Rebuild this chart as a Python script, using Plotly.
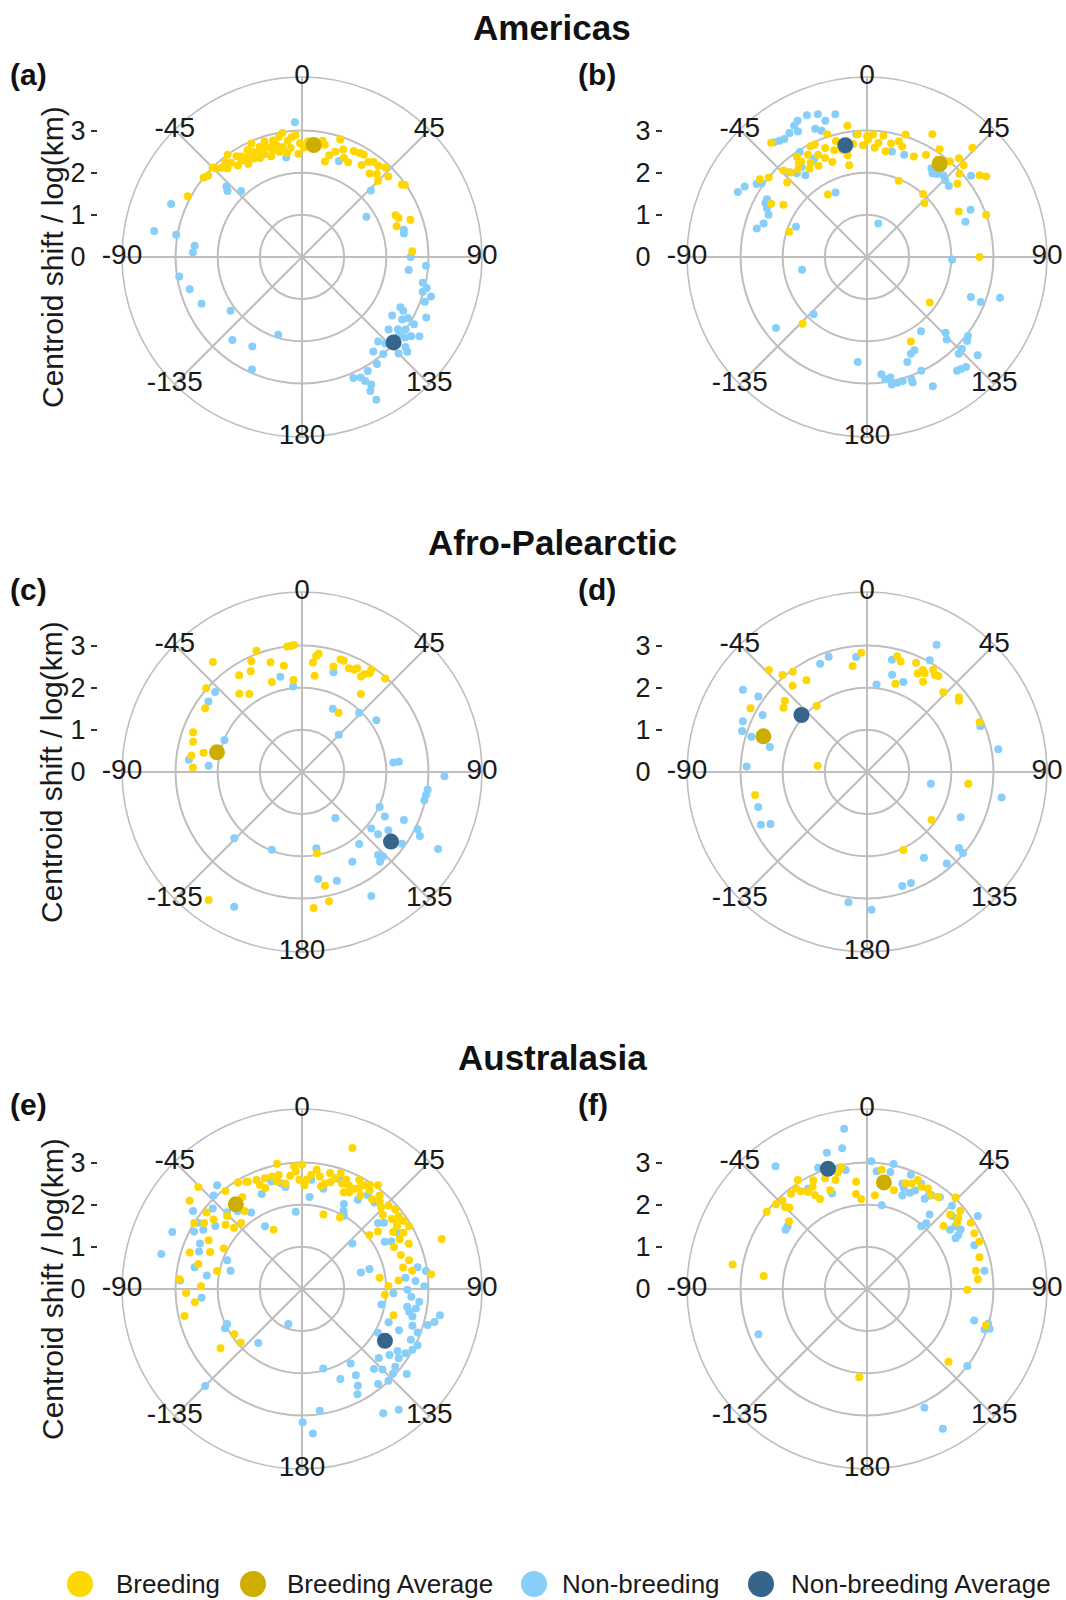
import plotly.graph_objects as go

# ---------------------------------------------------------------
# Direction (degrees, 0 = north, clockwise) and size (log km) of
# range-centroid shifts, per region and season.
# ---------------------------------------------------------------

# (a) Americas - breeding season
A_BREEDING_THETA = [-62, -51, -49, -45, -44, -42, -40, -39, -37, -36, -35, -33, -32, -31, -30, -29, -27, -26,
                    -25, -24, -23, -22, -21, -20, -19, -18, -17, -16, -15, -14, -13, -12, -11, -10, -9, -8,
                    -7, -6, -5, -3, -2, -1, 1, 3, 8, 10, 11.5, 13.5, 15, 17.5, 18, 21, 23, 26, 26, 29, 31,
                    33, 35, 37, 39, 40, 42, 43, 45, 47, 54, 55, 66, 68, 71, 72, 87]
A_BREEDING_R = [3.07, 3.0, 2.95, 3.0, 2.92, 2.85, 2.75, 2.9, 2.8, 3.0, 2.65, 2.85, 2.7, 2.78, 2.55, 2.7, 2.85, 2.6,
                2.75, 2.95, 2.55, 2.7, 2.8, 2.6, 2.75, 2.88, 2.5, 2.7, 2.62, 2.85, 2.72, 2.55, 2.9, 2.65, 2.98, 2.5,
                2.78, 2.6, 2.85, 2.9, 2.45, 2.7, 2.6, 2.75, 2.65, 2.8, 2.72, 2.33, 2.5, 2.62, 2.93, 2.73, 2.55, 2.5,
                2.8, 2.82, 2.84, 2.6, 2.75, 2.82, 2.55, 2.82, 2.65, 2.9, 2.55, 2.8, 2.93, 2.98, 2.43, 2.47, 2.72,
                2.36, 2.62]
# (a) Americas - non-breeding season
A_NONBREEDING_THETA = [-3, -9, 21, -48.5, -47, -42.7, -68, -80, -80, -84, -87.6, 46, 58, 75, 77, 90, 97, 94, 102,
                       104, 106, 107, 110, 116, 117, 118, 120, 121, 122, 123, 124, 125, 126, 127, 128, 129, 130,
                       131, 132, 133, 135, 136, 138, 140, 143, 145, 150, 151.5, 153, 153, 154, 157, 152.5, -99,
                       -106, -115, -127, -163, -140, -151, -156]
A_NONBREEDING_R = [3.2, 2.39, 2.44, 2.36, 2.45, 2.13, 3.35, 3.56, 3.03, 2.56, 2.59, 2.27, 1.8, 2.5, 2.48, 2.58, 2.55,
                   2.95, 2.93, 3.05, 2.98, 3.2, 3.1, 3.28, 2.62, 2.72, 2.9, 3.1, 2.8, 2.55, 3.36, 3.0, 3.2, 2.85,
                   3.1, 2.95, 2.68, 3.25, 3.36, 3.05, 3.24, 2.85, 2.7, 3.0, 2.81, 3.1, 3.12, 3.44, 3.3, 3.57, 3.18,
                   3.12, 3.82, 2.95, 2.77, 2.63, 2.12, 1.93, 2.57, 2.43, 2.92]

# (b) Americas - breeding season
B_BREEDING_THETA = [-54, -51, -47, -72, -58, -61, -40, -44, -42, -38, -36, -35, -34.6, -33, -31, -30, -28, -27,
                    -25.5, -24.9, -23, -21, -20, -18, -17, -15, -32, -13, -11, -10.8, -8.5, -7, -4.3, -2, 0, 0.5,
                    2.9, 4, 5.7, 7.7, 10, 12, 15.4, 17.7, 17.5, 22.6, 25, 28, 30, 34, 36, 41.7, 46.8, 41, 43,
                    46.5, 44, 48, 54, 56, 51, 63.6, 70.5, 90, 126, 152.6, -136]
B_BREEDING_R = [3.14, 3.0, 2.59, 1.94, 2.34, 2.6, 3.54, 2.85, 2.7, 2.65, 2.75, 2.9, 2.75, 2.5, 2.6, 2.8, 2.45, 2.95,
                2.69, 2.94, 2.55, 2.77, 2.4, 3.06, 2.65, 2.85, 1.75, 2.6, 2.22, 2.46, 3.15, 2.7, 2.92, 2.65, 2.87,
                2.79, 2.91, 2.6, 2.72, 2.9, 2.55, 2.75, 2.85, 2.75, 3.05, 1.96, 2.63, 3.3, 2.8, 3.08, 2.85, 2.0,
                1.87, 3.0, 3.2, 3.16, 3.6, 2.95, 3.3, 3.41, 2.76, 2.43, 3.0, 2.67, 1.84, 2.26, 2.2]
# (b) Americas - non-breeding season
B_NONBREEDING_THETA = [-23, -19, -17, -12.5, -27, -29, -32, -35, -37, -39, -28.8, -22, -19.8, -5, 13.3, 20, 36, 38,
                       40, 43, 45.6, 49, 52, -36, -42.5, -40, -37, -30, -28, -32.6, -63.3, -60, -56.5, -55, -60,
                       -62, -64, -66.8, -72, -75.5, -67, -26, 18.6, -101, -128, -137, 91.6, 65.5, 70.3, 111, 111.6,
                       107, 144, 134, 136, 128, 130, 134, 136.5, 131.6, 141.6, 140, 138, 153, 155.6, 159, 154.5,
                       153, -175, 173, 171.5, 169, 169, 166.5, 164, 160, 160]
B_NONBREEDING_R = [3.65, 3.58, 3.38, 3.47, 3.63, 3.56, 3.47, 3.42, 3.45, 3.5, 3.4, 3.28, 3.18, 2.93, 2.57, 2.58, 2.6,
                   2.52, 2.57, 2.65, 2.6, 2.57, 3.13, 2.64, 2.73, 2.59, 2.43, 2.6, 2.65, 2.96, 3.43, 3.35, 3.14,
                   3.05, 2.74, 2.73, 2.64, 2.54, 2.58, 2.7, 1.83, 1.7, 0.84, 1.57, 2.74, 1.86, 2.02, 2.7, 2.48,
                   2.64, 2.9, 3.3, 2.18, 2.59, 2.72, 3.04, 3.1, 3.13, 3.16, 3.51, 3.44, 3.47, 3.51, 2.48, 2.52,
                   2.67, 2.99, 3.44, 2.5, 2.8, 2.93, 2.91, 3.08, 3.07, 3.06, 3.08, 3.17]

# (c) Afro-Palearctic - breeding season
C_BREEDING_THETA = [-39, -20.6, -24.6, -27, -16, -9.7, -6.7, -5, -3.6, -5.3, -18.5, -33, -38.7, -34, -48.8, -56.7,
                    -70, -74.5, -81.5, -87.7, -79, 5.7, 7, 8, 7.5, 16.6, 31.7, 18.9, 20.6, 24.3, 27, 28, 31.7,
                    32.6, 34.4, 34.1, 41.6, 37, 169.5, 168.6, 168.2, 175.1, -143.9]
C_BREEDING_R = [3.36, 3.07, 2.89, 2.68, 2.71, 2.56, 3.0, 3.0, 3.02, 2.19, 2.25, 2.74, 2.38, 2.23, 3.02, 2.75,
                2.75, 2.68, 2.65, 2.59, 2.38, 2.61, 2.77, 2.83, 2.3, 2.61, 1.65, 2.82, 2.82, 2.7, 2.72, 2.79, 2.66,
                2.75, 2.84, 2.93, 2.97, 2.32, 1.96, 2.75, 3.13, 3.24, 3.76]
# (c) Afro-Palearctic - non-breeding season
C_NONBREEDING_THETA = [-12.8, -5.9, 17.5, 25.9, 44.7, 44, 55.2, -47.4, -53, -67.6, -83.8, -86.2, 84, 84, 91.7, 98,
                       100.5, 103, 114.2, 144, 118.2, 115.2, 129.2, 129.3, 124, 116.4, 118.5, 125.7, 141.5, 150.7,
                       137.5, 139, 136.2, 119.5, 150.8, 162.2, 171.4, 169.3, -134.4, -158.8, -153.3]
C_NONBREEDING_R = [2.32, 2.04, 2.48, 1.67, 1.24, 1.95, 2.15, 2.8, 2.78, 1.99, 2.7, 2.22, 2.18, 2.31, 3.38, 3.01,
                   2.99, 2.98, 2.02, 1.35, 2.23, 2.67, 2.12, 2.33, 2.47, 3.06, 3.18, 2.92, 2.18, 2.44, 2.67, 2.82,
                   2.78, 3.71, 3.37, 2.71, 2.57, 1.84, 2.25, 1.98, 3.58]

# (d) Afro-Palearctic - breeding season
D_BREEDING_THETA = [-2.8, -7.7, -43.9, -41.1, -36.5, -40.8, -33.4, -49, -52.4, -37.3, -61.3, -82.9, -101.6, 14.6,
                    16.9, 17.8, 24.2, 27.2, 28.7, 30.3, 31.8, 32.9, 35, 36.6, 43.7, 50.9, 52.2, 66.2, 96.6, 126.7,
                    155]
D_BREEDING_R = [2.83, 2.54, 3.36, 3.05, 2.96, 2.7, 2.61, 2.58, 2.5, 1.97, 3.15, 1.18, 2.71, 2.84, 2.74, 2.2, 2.84,
                2.63, 2.76, 2.71, 2.52, 2.89, 2.81, 2.84, 2.62, 2.81, 2.76, 2.92, 2.42, 1.91, 2.04]
# (d) Afro-Palearctic - non-breeding season
D_NONBREEDING_THETA = [28.7, 29.3, 12.5, 14.5, 22, 6.2, -5.4, -18.4, -23.4, -56.5, -55.2, -67.8, -71.8, -61.4, -73,
                       -75.6, -87.4, -107.8, -116.4, -118.3, 80.2, 100.7, 68, 100.4, 115.8, 129.6, 130.2, 138.9,
                       146.4, 162.8, 158.4, -171.9, 178.1]
D_NONBREEDING_R = [3.44, 3.04, 2.73, 2.38, 2.3, 2.09, 2.74, 2.88, 2.8, 3.53, 3.14, 3.18, 3.12, 2.82, 2.87, 2.38,
                   2.86, 2.71, 2.81, 2.6, 3.16, 3.25, 2.9, 1.54, 2.47, 2.83, 2.98, 2.88, 2.44, 2.83, 2.83, 3.12,
                   3.27]

# (e) Australasia - breeding season
E_BREEDING_THETA = [-27.5, -22.7, -18.5, -15, -11.5, -11.3, -8.9, -3.7, -3, -1.4, 1.3, 4.6, 9, 12.3, 13.6, 16.7,
                    20.8, 23.3, 24.3, 27.4, 27.7, 31, 32, 34.4, 36.2, 39.7, 46, 49.4, 53, 56, 59.6, 52, 56.5, 52.9,
                    51.3, 75, 80.6, 81.7, 94, 106, 83.5, 70.3, 19.7, 16, 28, -45.5, -51.8, -51.3, -51.8, -62.4, -68,
                    -76.5, -78, -85.5, -97, -103, -126, -123.7, -131, -50, -45.7, -36.4, -26.8, -25.6, -22, -62.6,
                    -42.7, -48, -33, -31, -20, -13, -6, 0, 2.5, 7, 10.5, 15, 18.5, 22, 26, 29.5, 33, 38, 41.5, 44,
                    47.5, 55, 58, 61, 63, 65.5, 67, 71, 78, 85, 88, -38, -56, -58.5, -72, -88.5, -92]
E_BREEDING_R = [2.87, 2.8, 2.77, 2.76, 2.76, 3.03, 2.53, 2.92, 2.79, 2.59, 2.46, 2.72, 2.7, 2.56, 2.83, 2.74, 2.68,
                2.5, 2.7, 2.68, 2.92, 2.87, 2.62, 2.84, 3.05, 2.88, 2.85, 2.91, 2.87, 2.9, 2.94, 2.7, 2.7, 2.26,
                2.05, 2.63, 2.65, 1.86, 1.97, 2.26, 3.08, 3.52, 3.55, 1.84, 1.92, 3.45, 3.39, 2.9, 2.67, 2.5, 2.35,
                2.53, 2.06, 2.92, 2.56, 2.86, 2.39, 1.93, 1.93, 2.37, 2.48, 2.3, 2.85, 1.56, 2.66, 2.09, 2.13, 2.17,
                2.6, 2.95, 2.55, 2.62, 2.7, 2.95, 2.6, 2.85, 2.48, 2.62, 2.9, 2.8, 2.55, 2.75, 2.95, 2.7, 2.78, 2.7,
                2.6, 2.75, 2.55, 2.75, 2.6, 2.4, 2.75, 2.48, 2.45, 2.3, 2.05, 2.95, 2.8, 3.0, 2.8, 2.4, 2.75]
# (e) Australasia - non-breeding season
E_NONBREEDING_THETA = [-76, -66.3, -39.3, -43.4, -54.4, -57.5, -59, -54, -44.3, -39.5, -33.6, -30.5, -95, -82,
                       -78.6, -66, -69, -75.7, -135, -141, -115, -117, -158.6, 179.7, 175.7, 171.7, 165, 156.9,
                       146.8, 148, 152.2, 150, 141.3, 146.8, 141.3, 136.7, 133, 129.8, 125.6, 121.8, 118.8, 116,
                       110.6, 108.4, 104, 99.7, 96.2, 99.6, 102, 104, 100.8, 90.4, 88.7, 79.4, 81.7, 83.8, 92.6, 101,
                       111, 120, 127, 135, 138, 74.4, 73.6, 47.9, 60.3, 62, 60, 49, 51, 40, 35, 32, 19.4, 4.9, 4.7,
                       -4.6, -9.2, -11, 26.2, 28, 12, 29.8, -23, -16, -48, -62, -70, -86, 113, 115, 123, 129, 132,
                       106, 94, 86]
E_NONBREEDING_R = [3.44, 3.36, 3.18, 3.05, 3.18, 2.92, 2.73, 2.54, 2.54, 2.4, 2.18, 1.73, 2.39, 2.28, 2.6, 2.65,
                   1.9, 1.75, 3.25, 1.65, 1.96, 2.05, 0.89, 3.16, 3.44, 2.92, 1.95, 2.32, 2.11, 2.41, 2.82, 2.65,
                   2.89, 3.52, 3.67, 2.99, 2.95, 2.88, 2.82, 2.89, 2.99, 3.05, 2.93, 2.76, 2.7, 2.74, 2.8, 2.53,
                   2.6, 3.24, 3.33, 2.5, 2.9, 2.79, 2.97, 2.47, 2.17, 1.92, 2.2, 2.08, 2.6, 2.7, 2.55, 1.45, 1.67,
                   1.61, 2.26, 2.4, 2.65, 2.39, 2.5, 2.68, 2.72, 2.5, 2.74, 2.6, 2.19, 1.84, 2.45, 2.55, 2.25, 2.1,
                   2.43, 2.0, 2.45, 2.65, 2.85, 2.9, 2.6, 2.9, 2.5, 2.85, 2.7, 3.2, 2.45, 3.1, 2.6, 2.7]

# (f) Australasia - breeding season
F_BREEDING_THETA = [-79.7, -82.8, -52.4, -47, -43.7, -45, -43.6, -38.6, -35.2, -32.4, -34, -31.3, -26.3, -28, -27.5,
                    -29, -20.7, -20.4, -16.1, -14, -12, -5.8, -6.6, -3.7, 4.8, 7, 15.2, 20.1, 23, 25, 28, 31.3, 34,
                    37.8, 44, 50, 48.1, 50.6, 52, 53.7, 57.5, 62.5, 67.2, 74.2, 80.5, 85, 90.4, 107, -175, 131.7,
                    -49]
F_BREEDING_R = [3.24, 2.47, 3.0, 2.95, 2.9, 2.75, 2.67, 2.89, 2.92, 3.06, 2.8, 2.69, 2.88, 2.75, 2.41, 2.55, 2.81,
                2.5, 2.69, 2.85, 2.95, 2.56, 2.27, 2.14, 2.23, 2.85, 2.43, 2.67, 2.72, 2.85, 2.75, 2.79, 2.7, 2.76,
                3.02, 2.89, 2.65, 2.35, 2.75, 2.65, 2.92, 2.87, 2.89, 2.77, 2.62, 2.64, 2.38, 2.95, 2.1, 2.59, 2.45]
# (f) Australasia - non-breeding season
F_NONBREEDING_THETA = [-8.1, -10, -16.4, -36.7, -30.4, -20.1, -10.1, 2, 12, 4.7, 11.3, 10, 18.5, 20, 21, 20.7, 24,
                       26, 27.2, 32.6, 33.5, 34.6, 38.5, 40, 40.8, 42, 45.6, 49.3, 54.6, 54.5, 57.6, 59.5, 60.2,
                       56.6, 67.8, 81.2, 106.4, 106, 108, 109, 127.5, 154.2, 151.5, -112.6, -51.7, -53.9, -22, -13]
F_NONBREEDING_R = [3.84, 3.39, 3.37, 3.63, 2.76, 2.41, 2.87, 3.03, 3.03, 2.8, 2.83, 2.02, 2.64, 2.55, 2.9, 2.37,
                   2.5, 2.6, 2.81, 2.54, 2.65, 2.7, 2.78, 2.31, 1.97, 2.1, 2.82, 2.66, 2.57, 2.42, 2.63, 2.52, 2.42,
                   3.15, 2.75, 2.82, 2.65, 2.99, 3.06, 2.95, 3.0, 3.13, 3.77, 2.79, 2.4, 2.39, 3.1, 2.95]

# Mean shift per panel (a-f)
BREEDING_AVG_THETA = [6, 38, -77, -71, -38, 9]
BREEDING_AVG_R = [2.67, 2.8, 2.07, 2.6, 2.55, 2.56]
NONBREEDING_AVG_THETA = [133, -11, 128, -49, 122, -18]
NONBREEDING_AVG_R = [2.97, 2.7, 2.68, 2.06, 2.32, 3.0]

PANEL_LABELS = ["(a)", "(b)", "(c)", "(d)", "(e)", "(f)"]
REGION_TITLES = ["Americas", "Afro-Palearctic", "Australasia"]
ANGLE_TICKS = [0, 45, 90, 135, 180, -135, -90, -45]
RADIAL_TICKS = [0, 1, 2, 3]
Y_TITLE = "Centroid shift / log(km)"
SERIES_NAMES = ["Breeding", "Breeding Average", "Non-breeding", "Non-breeding Average"]

# ---------------------------------------------------------------
# Styling and page geometry (pixels)
# ---------------------------------------------------------------
W, H = 1066, 1600
FONT = "Liberation Sans, Arial, sans-serif"
TXT = "#1a1a1a"
COL_X = [302, 867]
ROW_Y = [257, 772, 1289]
TITLE_Y = [28, 542, 1057]
LABEL_Y = [74, 589, 1104]
LABEL_X = [8, 576]
R_PX = 180          # outer circle radius in px
R_MAX = 4.27        # radial value at the outer circle
AXIS_GAP = 204      # distance from circle centre to the radial value axis
GRID = "#BEBEBE"
C_BREED, C_BREED_AVG = "#FFD700", "#CDAD00"
C_NON, C_NON_AVG = "#87CEFA", "#36648B"
SERIES_COLORS = [C_BREED, C_BREED_AVG, C_NON, C_NON_AVG]
PT_SIZE, AVG_SIZE = 8, 16
# key row along the bottom edge
KEY_Y = 1584
KEY_SWATCH_X = [80, 253, 534, 761]
KEY_TEXT_X = [114, 285, 560, 789]
KEY_SWATCH_SIZE = 26

breeding = [(A_BREEDING_THETA, A_BREEDING_R), (B_BREEDING_THETA, B_BREEDING_R),
            (C_BREEDING_THETA, C_BREEDING_R), (D_BREEDING_THETA, D_BREEDING_R),
            (E_BREEDING_THETA, E_BREEDING_R), (F_BREEDING_THETA, F_BREEDING_R)]
nonbreeding = [(A_NONBREEDING_THETA, A_NONBREEDING_R), (B_NONBREEDING_THETA, B_NONBREEDING_R),
               (C_NONBREEDING_THETA, C_NONBREEDING_R), (D_NONBREEDING_THETA, D_NONBREEDING_R),
               (E_NONBREEDING_THETA, E_NONBREEDING_R), (F_NONBREEDING_THETA, F_NONBREEDING_R)]

fig = go.Figure()
layout = {}
annotations = []
tickfont = dict(family=FONT, size=27, color=TXT)

for i in range(6):
    row, col = divmod(i, 2)
    cx, cy = COL_X[col], ROW_Y[row]
    sub = "polar" if i == 0 else f"polar{i + 1}"
    ydom = [1 - (cy + R_PX) / H, 1 - (cy - R_PX) / H]
    layout[sub] = dict(
        domain=dict(x=[(cx - R_PX) / W, (cx + R_PX) / W], y=ydom),
        bgcolor="white",
        radialaxis=dict(range=[0, R_MAX], tickvals=[1, 2, 3], showticklabels=False, ticks="",
                        showline=False, gridcolor=GRID, gridwidth=1.6),
        angularaxis=dict(rotation=90, direction="clockwise", tickmode="array",
                         tickvals=[0, 45, 90, 135, 180, 225, 270, 315], showticklabels=False, ticks="",
                         gridcolor=GRID, gridwidth=1.6, showline=True, linecolor=GRID, linewidth=1.6,
                         layer="below traces"),
    )

    th, rr = nonbreeding[i]
    fig.add_trace(go.Scatterpolar(theta=th, r=rr, mode="markers", subplot=sub, name="Non-breeding",
                                  marker=dict(size=PT_SIZE, color=C_NON, line=dict(width=0))))
    th, rr = breeding[i]
    fig.add_trace(go.Scatterpolar(theta=th, r=rr, mode="markers", subplot=sub, name="Breeding",
                                  marker=dict(size=PT_SIZE, color=C_BREED, line=dict(width=0))))
    fig.add_trace(go.Scatterpolar(theta=[BREEDING_AVG_THETA[i]], r=[BREEDING_AVG_R[i]], mode="markers",
                                  subplot=sub, name="Breeding Average",
                                  marker=dict(size=AVG_SIZE, color=C_BREED_AVG, line=dict(width=0))))
    fig.add_trace(go.Scatterpolar(theta=[NONBREEDING_AVG_THETA[i]], r=[NONBREEDING_AVG_R[i]], mode="markers",
                                  subplot=sub, name="Non-breeding Average",
                                  marker=dict(size=AVG_SIZE, color=C_NON_AVG, line=dict(width=0))))
    # direction labels centred on the outer ring
    fig.add_trace(go.Scatterpolar(theta=ANGLE_TICKS, r=[R_MAX] * len(ANGLE_TICKS), mode="text",
                                  text=[str(a) for a in ANGLE_TICKS], subplot=sub,
                                  cliponaxis=False, hoverinfo="skip",
                                  textfont=dict(family=FONT, size=28, color=TXT)))

    # radial value axis left of each circle: ticked values 1-3, un-ticked 0
    n1, n2 = 2 * i + 1, 2 * i + 2
    pos = (cx - AXIS_GAP) / W
    for n, vals, tcol in [(n1, RADIAL_TICKS[1:], "#333333"), (n2, RADIAL_TICKS[:1], "rgba(0,0,0,0)")]:
        layout[f"xaxis{n}"] = dict(domain=[pos, pos + 0.002], visible=False, anchor=f"y{n}", range=[0, 1])
        layout[f"yaxis{n}"] = dict(domain=ydom, range=[-R_MAX, R_MAX], anchor=f"x{n}", tickmode="array",
                                   tickvals=vals, ticktext=[str(v) for v in vals],
                                   ticks="outside", ticklen=6, tickwidth=1.6, tickcolor=tcol,
                                   showline=False, showgrid=False, zeroline=False, tickfont=tickfont)
        fig.add_trace(go.Scatter(x=[None], y=[None], xaxis=f"x{n}", yaxis=f"y{n}", hoverinfo="skip"))

    annotations.append(dict(text=f"<b>{PANEL_LABELS[i]}</b>", xref="paper", yref="paper",
                            x=LABEL_X[col] / W, y=1 - LABEL_Y[row] / H,
                            xanchor="left", yanchor="middle", showarrow=False,
                            font=dict(family=FONT, size=30, color="#111111")))
    if col == 0:
        annotations.append(dict(text=Y_TITLE, xref="paper", yref="paper", x=52 / W, y=1 - cy / H,
                                xanchor="center", yanchor="middle", textangle=-90, showarrow=False,
                                font=dict(family=FONT, size=30, color=TXT)))

for row, title in enumerate(REGION_TITLES):
    annotations.append(dict(text=f"<b>{title}</b>", xref="paper", yref="paper", x=552 / W,
                            y=1 - TITLE_Y[row] / H, xanchor="center", yanchor="middle",
                            showarrow=False, font=dict(family=FONT, size=35, color="#111111")))

# key: swatches on a pixel-scaled strip, labels beside them
kx, ky = "x13", "y13"
layout["xaxis13"] = dict(domain=[0, 1], range=[0, W], visible=False, anchor=ky, fixedrange=True)
layout["yaxis13"] = dict(domain=[1 - (KEY_Y + 14) / H, 1 - (KEY_Y - 14) / H], range=[-14, 14],
                         visible=False, anchor=kx, fixedrange=True)
fig.add_trace(go.Scatter(x=KEY_SWATCH_X, y=[0] * len(KEY_SWATCH_X), xaxis=kx, yaxis=ky, mode="markers",
                         hoverinfo="skip", cliponaxis=False,
                         marker=dict(size=KEY_SWATCH_SIZE, color=SERIES_COLORS, line=dict(width=0))))
for name, tx in zip(SERIES_NAMES, KEY_TEXT_X):
    annotations.append(dict(text=name, xref=kx, yref=ky, x=tx, y=0, xanchor="left", yanchor="middle",
                            showarrow=False, font=dict(family=FONT, size=26, color=TXT)))

fig.update_layout(
    width=W, height=H, margin=dict(l=0, r=0, t=0, b=0),
    paper_bgcolor="white", plot_bgcolor="white",
    font=dict(family=FONT, color=TXT),
    showlegend=False,
    annotations=annotations,
    **layout,
)

fig.write_html("out.html")
